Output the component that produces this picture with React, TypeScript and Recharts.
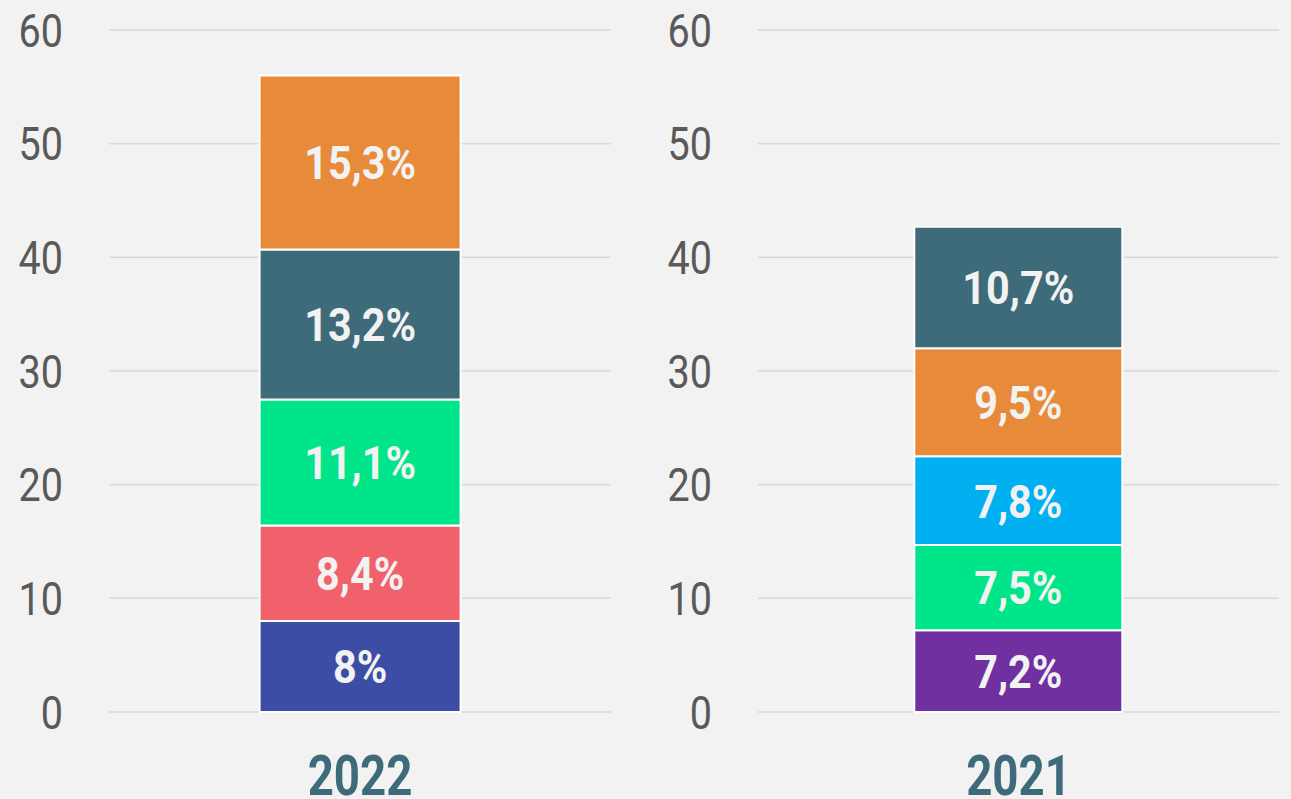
import React from 'react';
import { BarChart, Bar, XAxis, YAxis, CartesianGrid, LabelList } from 'recharts';

const yTicks = [0, 10, 20, 30, 40, 50, 60];

const categories2022 = ['2022'];
const values2022 = [8, 8.4, 11.1, 13.2, 15.3];
const colors2022 = ['#3b4da5', '#f0616c', '#00e58a', '#3e6b7a', '#e78b3b'];

const categories2021 = ['2021'];
const values2021 = [7.2, 7.5, 7.8, 9.5, 10.7];
const colors2021 = ['#7030a0', '#00e58a', '#00b0f0', '#e78b3b', '#3e6b7a'];

const FONT = 'Roboto, "Liberation Sans", sans-serif';
const SX = 0.86;

const fmt = (v: number) => String(v).replace('.', ',') + '%';

function buildRows(categories: string[], values: number[]) {
  return categories.map((c) => {
    const row: any = { name: c };
    values.forEach((v, i) => {
      row['s' + i] = v;
    });
    return row;
  });
}

function YTick(props: any) {
  const { x, y, payload } = props;
  return (
    <g transform={`translate(${x},${y}) scale(${SX},1)`}>
      <text x={0} y={0} dy="0.36em" textAnchor="end" fill="#595959" fontSize={46} fontFamily={FONT}>
        {payload.value}
      </text>
    </g>
  );
}

function XTick(props: any) {
  const { x, y, payload } = props;
  return (
    <g transform={`translate(${x},${y}) scale(0.83,1)`}>
      <text x={0} y={0} dy={75} textAnchor="middle" fill="#3e6b7a" fontSize={55} fontWeight={700} fontFamily={FONT}>
        {payload.value}
      </text>
    </g>
  );
}

function BarLabel(props: any) {
  const { x, y, width, height, value } = props;
  const cx = Number(x) + Number(width) / 2;
  const cy = Number(y) + Number(height) / 2;
  return (
    <g transform={`translate(${cx},${cy}) scale(0.88,1)`}>
      <text x={0} y={0} dy="0.36em" textAnchor="middle" fill="#f2f2f2" fontSize={47} fontWeight={700} fontFamily={FONT}>
        {fmt(Number(value))}
      </text>
    </g>
  );
}

function Panel(props: { categories: string[]; values: number[]; colors: string[]; width: number; yWidth: number; right: number }) {
  const { categories, values, colors, width, yWidth, right } = props;
  const data = buildRows(categories, values);
  return (
    <BarChart width={width} height={799} data={data} margin={{ top: 30, right, bottom: 0, left: 0 }} barCategoryGap="30%">
      <CartesianGrid vertical={false} stroke="#d9d9d9" strokeWidth={1.5} />
      <XAxis dataKey="name" axisLine={false} tickLine={false} height={87} tick={<XTick />} interval={0} />
      <YAxis
        domain={[0, 60]}
        ticks={yTicks}
        width={yWidth}
        axisLine={false}
        tickLine={false}
        tickMargin={40}
        tick={<YTick />}
        interval={0}
      />
      {values.map((_, i) => (
        <Bar key={i} dataKey={'s' + i} stackId="a" fill={colors[i]} stroke="#ffffff" strokeWidth={2} isAnimationActive={false}>
          <LabelList dataKey={'s' + i} content={<BarLabel />} />
        </Bar>
      ))}
    </BarChart>
  );
}

export default function App() {
  return (
    <div style={{ position: 'fixed', left: 0, top: 0, width: 1291, height: 799, background: '#f2f2f2', overflow: 'hidden' }}>
      <div style={{ position: 'absolute', left: 0, top: 0 }}>
        <Panel categories={categories2022} values={values2022} colors={colors2022} width={645} yWidth={109} right={34} />
      </div>
      <div style={{ position: 'absolute', left: 645, top: 0 }}>
        <Panel categories={categories2021} values={values2021} colors={colors2021} width={646} yWidth={113} right={12} />
      </div>
    </div>
  );
}
